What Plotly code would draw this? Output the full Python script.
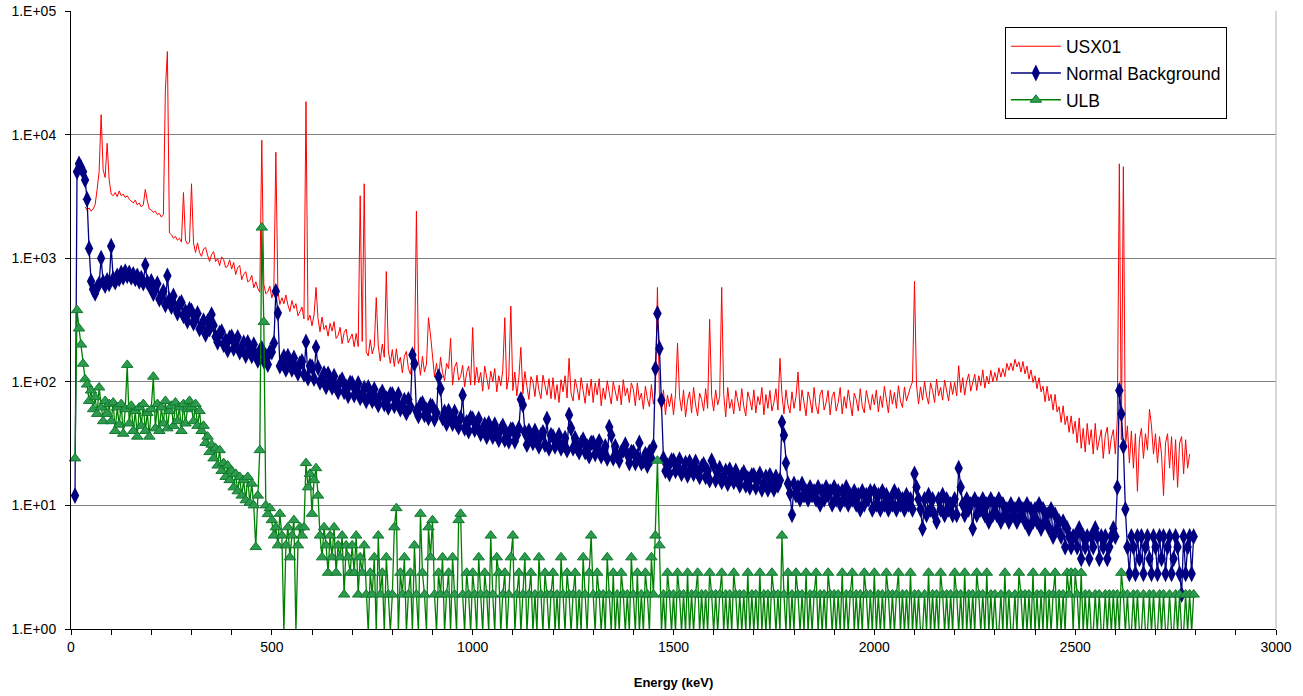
import plotly.graph_objects as go

# Channel energies (keV), 5 keV bins: 0 ... 2795
energy_kev = list(range(0, 2800, 5))

# USX01 spectrum (counts); one row = 100 keV
usx01 = [
    None, None, None, None, None, None, None, 2600, 2450, 2550, 2400, 2500, 2700, 3600, 5000, 14500, 5200, 4500, 8500, 4300,
    3300, 3200, 3400, 3150, 3500, 3200, 3300, 3100, 3200, 3000, 2900, 2800, 2950, 2700, 2800, 2600, 2700, 3600, 2900, 2500,
    2450, 2350, 2400, 2250, 2300, 2150, 2250, 23000, 47000, 1600, 1550, 1450, 1500, 1400, 1450, 1350, 3400, 1400, 1300, 1350,
    4000, 1330, 1110, 1330, 1110, 1035, 1190, 1220, 1060, 940, 1070, 1130, 940, 990, 870, 1025, 975, 840, 860, 970,
    817, 924, 738, 840, 874, 669, 740, 778, 644, 660, 726, 576, 645, 570, 531, 9000, 616, 515, 534, 594,
    477, 546, 7200, 545, 422, 479, 428, 504, 418, 370, 454, 393, 429, 342, 370, 403, 322, 18500, 314, 346,
    284, 347, 580, 324, 254, 334, 265, 286, 234, 297, 257, 307, 224, 238, 276, 203, 250, 267, 207, 226,
    244, 192, 246, 193, 3200, 212, 4000, 175, 162, 219, 168, 194, 480, 195, 147, 202, 158, 780, 178, 141,
    182, 133, 185, 140, 158, 118, 161, 176, 128, 115, 160, 131, 2400, 150, 113, 161, 120, 139, 330, 240,
    156, 110, 141, 102, 158, 119, 102, 141, 128, 225, 94, 131, 144, 103, 110, 136, 91, 119, 134, 94,
    275, 94, 131, 98, 119, 84, 134, 107, 87, 122, 100, 128, 83, 112, 93, 124, 330, 87, 111, 410,
    85, 120, 77, 109, 190, 80, 121, 92, 72, 110, 100, 76, 113, 85, 73, 113, 92, 78, 106, 73,
    108, 72, 95, 68, 104, 83, 112, 74, 155, 80, 70, 105, 89, 71, 108, 84, 67, 97, 77, 105,
    68, 98, 78, 106, 64, 89, 72, 102, 81, 66, 100, 85, 70, 94, 65, 104, 77, 89, 68, 98,
    87, 64, 98, 71, 81, 60, 92, 73, 63, 95, 66, 85, 580, 76, 59, 86, 54, 78, 63, 80,
    54, 79, 205, 76, 58, 86, 52, 71, 83, 56, 90, 65, 53, 81, 72, 58, 88, 61, 320, 76,
    58, 86, 65, 76, 580, 79, 52, 90, 61, 72, 55, 85, 68, 58, 88, 63, 53, 83, 72, 59,
    86, 56, 76, 65, 90, 54, 79, 61, 85, 58, 68, 88, 59, 155, 79, 55, 86, 65, 56, 83,
    61, 76, 120, 58, 86, 68, 53, 83, 72, 56, 90, 63, 55, 79, 86, 59, 68, 85, 54, 76,
    83, 58, 68, 90, 55, 76, 61, 86, 65, 53, 81, 72, 58, 88, 63, 56, 85, 68, 59, 79,
    65, 86, 57, 77, 62, 92, 70, 56, 86, 66, 82, 61, 93, 70, 62, 91, 70, 82, 91, 100,
    650, 94, 66, 91, 71, 101, 77, 66, 98, 85, 68, 105, 77, 90, 71, 103, 83, 70, 99, 79,
    99, 77, 135, 82, 108, 78, 101, 116, 84, 99, 115, 85, 112, 93, 125, 89, 111, 96, 124, 100,
    119, 102, 130, 109, 128, 110, 141, 124, 142, 123, 152, 132, 145, 120, 146, 116, 134, 105, 125, 99,
    112, 88, 108, 83, 92, 69, 92, 70, 79, 59, 79, 57, 63, 47, 64, 45, 53, 39, 53, 38,
    48, 32, 51, 29, 42, 27, 46, 31, 41, 26, 46, 28, 33, 41, 24, 37, 43, 26, 35, 41,
    26, 50, 5800, 34, 5500, 30, 44, 22, 40, 20, 38, 13, 34, 42, 24, 38, 28, 60, 44, 26,
    38, 22, 36, 26, 12, 32, 38, 20, 36, 16, 34, 14, 32, 36, 18, 34, 20, 26, None, None,
]

# Normal Background spectrum
normal_background = [
    None, None, 12, 5000, 5800, 5400, 5000, 4300, 3000, 1200, 650, 560, 520, 580, 620, 1000, 640, 600, 660, 620,
    1250, 680, 640, 720, 680, 760, 700, 780, 720, 760, 700, 740, 680, 720, 650, 690, 630, 880, 640, 600,
    649, 518, 560, 621, 466, 489, 540, 419, 720, 462, 405, 495, 400, 360, 426, 438, 342, 370, 310, 385,
    374, 298, 322, 357, 268, 282, 312, 242, 307, 267, 350, 286, 231, 209, 248, 255, 200, 216, 181, 227,
    231, 186, 204, 229, 174, 185, 207, 163, 208, 183, 162, 200, 164, 149, 178, 186, 148, 162, 138, 174,
    174, 205, 540, 360, 134, 143, 160, 126, 161, 142, 126, 156, 128, 117, 140, 146, 115, 210, 107, 134,
    132, 106, 190, 130, 99, 105, 117, 91, 116, 102, 90, 111, 90, 83, 100, 104, 83, 91, 77, 98,
    97, 78, 86, 97, 74, 79, 89, 70, 90, 79, 70, 87, 71, 65, 78, 83, 66, 73, 62, 79,
    79, 64, 70, 79, 60, 64, 71, 56, 72, 63, 165, 140, 58, 53, 65, 67, 54, 59, 51, 64,
    63, 50, 56, 110, 88, 51, 57, 46, 58, 51, 46, 57, 46, 43, 51, 78, 42, 47, 40, 51,
    50, 41, 44, 50, 38, 41, 45, 36, 46, 41, 36, 45, 38, 34, 41, 44, 34, 38, 33, 41,
    41, 33, 37, 42, 72, 65, 39, 31, 40, 36, 32, 40, 33, 30, 37, 39, 31, 50, 29, 37,
    36, 30, 33, 37, 29, 31, 35, 28, 54, 42, 29, 35, 29, 27, 32, 34, 27, 30, 25, 32,
    32, 26, 29, 33, 25, 27, 30, 24, 43, 37, 24, 30, 25, 23, 27, 28, 31, 26, 22, 27,
    27, 22, 25, 32, 22, 23, 26, 21, 27, 24, 30, 128, 357, 186, 71, 24, 19, 21, 18, 23,
    23, 19, 21, 23.5, 18, 19.5, 22, 17.5, 22.5, 20, 18, 22.5, 18.5, 17, 20.5, 21.5, 17, 19, 16, 23,
    21, 16, 18, 20, 15.5, 17, 19, 15, 19.5, 17, 15.5, 19, 16, 14.5, 17.5, 18.5, 14.5, 16.5, 14, 17.5,
    17.5, 14, 16, 18, 13.5, 15, 17, 13.5, 17.5, 15.5, 13.5, 17, 14.5, 16, 47, 37, 22, 15, 12.5, 8.4,
    14.9, 12.1, 14.0, 11.2, 14.9, 12.1, 13.0, 11.2, 14.0, 12.1, 13.0, 11.2, 14.0, 10.2, 13.0, 11.2, 14.0, 12.1, 13.0, 10.2,
    14.0, 11.2, 13.0, 10.2, 13.0, 11.2, 14.0, 10.2, 12.1, 11.2, 13.0, 10.2, 12.1, 9.3, 13.0, 10.2, 12.1, 11.2, 13.0, 9.3,
    13.0, 10.2, 12.1, 9.3, 13.0, 10.2, 12.1, 9.3, 11.2, 10.2, 13.0, 9.3, 12.1, 10.2, 11.2, 9.3, 12.1, 10.2, 11.2, 9.3,
    18.0, 14.0, 11.2, 9.3, 6.5, 11.2, 8.4, 12.1, 9.3, 11.2, 8.4, 7.4, 11.2, 9.3, 12.1, 8.4, 11.2, 9.3, 10.2, 8.4,
    11.2, 8.4, 20.0, 14.0, 10.2, 8.4, 11.2, 9.3, 10.2, 6.5, 11.2, 8.4, 10.2, 9.3, 11.2, 8.4, 10.2, 7.4, 11.2, 8.4,
    10.2, 8.4, 11.2, 7.4, 10.2, 8.4, 9.3, 7.4, 10.2, 8.4, 9.3, 7.4, 10.2, 8.4, 9.3, 7.4, 10.2, 6.5, 9.3, 7.4,
    9.3, 7.4, 10.2, 6.5, 9.3, 7.4, 8.4, 6.5, 9.3, 5.6, 8.4, 6.5, 7.4, 5.6, 7.4, 4.6, 6.5, 5.6, 4.6, 5.6,
    5.6, 4.6, 6.5, 3.7, 5.6, 4.6, 5.6, 3.7, 5.6, 4.6, 6.5, 5.6, 3.7, 5.6, 4.6, 5.6, 3.7, 4.6, 5.6, 6.5,
    5.6, 14, 85, 55, 30, 9.3, 4.6, 2.8, 5.6, 4.6, 2.8, 5.6, 3.7, 5.6, 2.8, 4.6, 5.6, 3.7, 2.8, 5.6,
    4.6, 2.8, 5.6, 3.7, 5.6, 2.8, 4.6, 5.6, 2.8, 3.7, 5.6, 4.6, 2.8, 1.9, 5.6, 2.8, 4.6, 5.6, 2.8, 5.6,
]

# ULB spectrum
ulb = [
    None, None, 24, 380, 270, 200, 140, 105, 95, 70, 85, 60, 75, 55, 90, 62, 48, 70, 55, 66,
    48, 68, 40, 62, 45, 66, 38, 60, 137, 46, 64, 40, 58, 36, 62, 44, 66, 40, 56, 36,
    60, 110, 42, 66, 40, 62, 46, 70, 42, 58, 64, 44, 68, 48, 62, 40, 66, 46, 60, 70,
    62, 48, 66, 44, 58, 40, 44, 32, 36, 27, 31, 24, 29, 21, 28, 19, 22, 17, 21, 16,
    19, 14, 18, 13, 17, 12, 16, 11, 17, 10.5, 15, 10, 4.6, 12, 28, 1770, 305, 10, 8.5, 9.5,
    7.6, 5.7, 6.65, 4.75, 8.55, 5.7, 0.95, 4.75, 6.65, 3.8, 5.7, 7.6, 0.95, 4.75, 6.65, 5.7, 6.65, 22, 14, 18,
    8.55, 16, 20, 12, 5.7, 3.8, 6.65, 4.75, 2.85, 5.7, 3.8, 6.65, 2.85, 4.75, 3.8, 5.7, 1.9, 4.75, 3.8, 2.85,
    4.75, 2.85, 5.7, 1.9, 3.8, 2.85, 4.75, 1.9, 0.95, 2.85, 1.9, 3.8, 0.95, 5.7, 1.9, 2.85, 0.95, 3.8, 1.9, 0.95,
    1.9, 6.65, 9.5, 0.95, 2.85, 1.9, 3.8, 0.95, 1.9, 2.85, 0.95, 4.75, 1.9, 0.95, 8.55, 2.85, 1.9, 0.95, 6.65, 3.8,
    7.6, 1.9, 0.95, 2.85, 1.9, 3.8, 0.95, 1.9, 2.85, 0.95, 3.8, 1.9, 0.95, 7.6, 8.55, 1.9, 0.95, 2.85, 1.9, 0.95,
    2.85, 1.9, 0.95, 3.8, 1.9, 0.95, 2.85, 1.9, 0.95, 5.7, 1.9, 0.95, 3.8, 2.85, 0.95, 1.9, 2.85, 0.95, 1.9, 3.8,
    5.7, 0.95, 1.9, 2.85, 0.95, 1.9, 3.8, 0.95, 1.9, 2.85, 0.95, 1.9, 0.95, 3.8, 1.9, 0.95, 2.85, 1.9, 0.95, 1.9,
    2.85, 0.95, 1.9, 0.95, 3.8, 1.9, 0.95, 2.85, 1.9, 0.95, 1.9, 2.85, 0.95, 1.9, 0.95, 3.8, 1.9, 0.95, 2.85, 5.7,
    1.9, 0.95, 2.85, 1.9, 0.95, 1.9, 0.95, 3.8, 1.9, 0.95, 2.85, 0.95, 1.9, 0.95, 2.85, 1.9, 0.95, 1.9, 0.95, 3.8,
    1.9, 0.95, 2.85, 0.95, 1.9, 0.95, 2.85, 1.9, 0.95, 3.8, 1.9, 5.7, 23, 4.75, 0.95, 1.9, 0.95, 2.85, 1.9, 0.95,
    1.9, 0.95, 2.85, 1.9, 0.95, 1.9, 0.95, 2.85, 0.95, 1.9, 0.95, 1.9, 2.85, 0.95, 1.9, 0.95, 1.9, 0.95, 2.85, 1.9,
    0.95, 1.9, 0.95, 1.9, 2.85, 0.95, 1.9, 0.95, 1.9, 0.95, 2.85, 1.9, 0.95, 1.9, 0.95, 1.9, 0.95, 2.85, 0.95, 1.9,
    0.95, 1.9, 0.95, 2.85, 0.95, 1.9, 0.95, 1.9, 0.95, 2.85, 1.9, 0.95, 1.9, 0.95, 5.7, 1.9, 0.95, 2.85, 0.95, 1.9,
    0.95, 2.85, 1.9, 0.95, 1.9, 0.95, 2.85, 0.95, 1.9, 0.95, 1.9, 2.85, 0.95, 1.9, 0.95, 1.9, 0.95, 2.85, 1.9, 0.95,
    1.9, 0.95, 1.9, 0.95, 2.85, 0.95, 1.9, 0.95, 1.9, 2.85, 0.95, 1.9, 0.95, 1.9, 0.95, 2.85, 1.9, 0.95, 1.9, 0.95,
    2.85, 0.95, 1.9, 0.95, 1.9, 0.95, 2.85, 1.9, 0.95, 1.9, 0.95, 1.9, 2.85, 0.95, 1.9, 0.95, 1.9, 0.95, 2.85, 0.95,
    1.9, 0.95, 1.9, 0.95, 0.95, 1.9, 0.95, 2.85, 0.95, 1.9, 0.95, 1.9, 0.95, 2.85, 1.9, 0.95, 1.9, 0.95, 1.9, 0.95,
    2.85, 1.9, 0.95, 1.9, 0.95, 2.85, 0.95, 1.9, 0.95, 1.9, 0.95, 2.85, 1.9, 0.95, 1.9, 0.95, 2.85, 0.95, 1.9, 0.95,
    1.9, 0.95, 0.95, 1.9, 0.95, 2.85, 0.95, 1.9, 0.95, 0.95, 1.9, 0.95, 2.85, 1.9, 0.95, 1.9, 0.95, 1.9, 0.95, 2.85,
    0.95, 1.9, 0.95, 1.9, 0.95, 2.85, 0.95, 1.9, 0.95, 1.9, 2.85, 0.95, 1.9, 0.95, 1.9, 0.95, 2.85, 1.9, 2.85, 0.95,
    2.85, 1.9, 0.95, 2.85, 0.95, 1.9, 0.95, 1.9, 0.95, 0.95, 1.9, 0.95, 1.9, 0.95, 0.95, 1.9, 0.95, 1.9, 0.95, 1.9,
    0.95, 1.9, 0.95, 2.85, 1.9, 0.95, 1.9, 0.95, 0.95, 1.9, 0.95, 1.9, 0.95, 0.95, 1.9, 0.95, 0.95, 1.9, 0.95, 1.9,
    0.95, 0.95, 1.9, 0.95, 1.9, 0.95, 0.95, 1.9, 0.95, 0.95, 1.9, 0.95, 1.9, 0.95, 0.95, 1.9, 0.95, 1.9, 0.95, 1.9,
]

assert len(usx01) == len(energy_kev), len(usx01)
assert len(normal_background) == len(energy_kev), len(normal_background)
assert len(ulb) == len(energy_kev), len(ulb)

y_tick_vals = [1, 10, 100, 1000, 10000, 100000]
y_tick_text = ["1.E+00", "1.E+01", "1.E+02", "1.E+03", "1.E+04", "1.E+05"]

FONT = "Arial, Liberation Sans, sans-serif"

fig = go.Figure()
fig.add_trace(go.Scatter(
    x=energy_kev, y=usx01, name="USX01", mode="lines",
    line=dict(color="#FF0000", width=1), legendgroup="a",
))
fig.add_trace(go.Scatter(
    x=energy_kev, y=normal_background, name="Normal Background", mode="lines+markers",
    line=dict(color="#000080", width=1.3),
    marker=dict(symbol="diamond-tall", size=12, color="#000080", line=dict(width=0)),
    legendgroup="b",
))
fig.add_trace(go.Scatter(
    x=energy_kev, y=ulb, name="ULB", mode="lines+markers",
    line=dict(color="#008000", width=1.3),
    marker=dict(symbol="triangle-up", size=10, color="#2E9A4E",
                line=dict(color="#0E7A2E", width=1)),
    cliponaxis=False, legendgroup="c",
))

fig.update_layout(
    width=1303, height=696,
    margin=dict(l=71, r=27, t=11, b=67),
    paper_bgcolor="white", plot_bgcolor="white",
    font=dict(family=FONT, size=14, color="black"),
    showlegend=True,
    legend=dict(
        x=0.775, y=0.9735, xanchor="left", yanchor="top",
        bgcolor="white", bordercolor="black", borderwidth=1,
        font=dict(family=FONT, size=17.5, color="black"),
        tracegroupgap=1, itemwidth=50,
    ),
)
fig.update_xaxes(
    range=[0, 3000], dtick=500, tick0=0, automargin=False,
    showgrid=False, zeroline=False,
    showline=True, linecolor="black", linewidth=1,
    ticks="outside", ticklen=5, tickcolor="black",
    minor=dict(dtick=100, ticks="outside", ticklen=5, tickcolor="black", showgrid=False),
    tickfont=dict(family=FONT, size=14),
    title=dict(text="<b>Energy (keV)</b>", font=dict(family=FONT, size=13), standoff=24),
)
fig.update_yaxes(
    type="log", range=[0, 5], automargin=False,
    tickmode="array", tickvals=y_tick_vals, ticktext=y_tick_text,
    showgrid=True, gridcolor="#808080", gridwidth=1,
    zeroline=False, showline=True, linecolor="black", linewidth=1,
    ticks="outside", ticklen=5, tickcolor="black",
    tickfont=dict(family=FONT, size=14), ticklabelstandoff=6,
)
# light plot-area border on the right side
fig.add_shape(type="line", xref="paper", yref="paper", x0=1, x1=1, y0=0, y1=1,
              line=dict(color="#B0B0B0", width=1))

fig.write_html("out.html", config={"displayModeBar": False},
               post_script="document.body.style.margin='0px';")
